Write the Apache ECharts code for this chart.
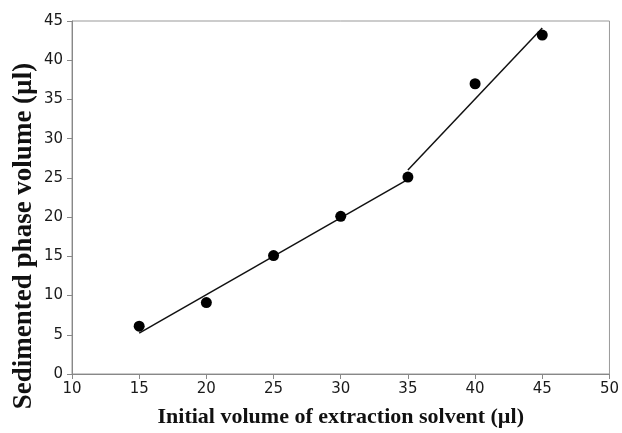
<!DOCTYPE html>
<html>
<head>
<meta charset="utf-8">
<script src="https://cdn.jsdelivr.net/npm/echarts@6/dist/echarts.min.js"></script>
<style>
  html, body { margin: 0; padding: 0; background: #fff; }
  #chart { width: 622px; height: 433px; }
</style>
</head>
<body>
<div id="chart"></div>
<script>
// measured points
const solventVol = [15, 20, 25, 30, 35, 40, 45];
const sedVol = [6.1, 9.1, 15.1, 20.1, 25.1, 37.0, 43.2];
// two fitted segments
const fitLowX = [15, 35];
const fitLowY = [5.2, 24.8];
const fitHighX = [35, 45];
const fitHighY = [26.0, 44.1];

const xTitle = "Initial volume of extraction solvent (µl)";
const yTitle = "Sedimented phase volume (µl)";

const pairs = (xs, ys) => xs.map((x, i) => [x, ys[i]]);

const chart = echarts.init(document.getElementById("chart"));
chart.setOption({
  animation: false,
  grid: {
    left: 72,
    right: 11,
    top: 21,
    bottom: 56,
    show: true,
    borderColor: "#999",
    borderWidth: 1,
  },
  xAxis: {
    type: "value",
    min: 10,
    max: 50,
    interval: 5,
    name: xTitle,
    nameLocation: "middle",
    nameGap: 32,
    nameTextStyle: {
      fontFamily: "Liberation Serif",
      fontWeight: "bold",
      fontSize: 22,
      color: "#111",
    },
    axisLine: { lineStyle: { color: "#888" } },
    axisTick: { show: true, length: 5, lineStyle: { color: "#888" } },
    axisLabel: { fontFamily: "DejaVu Sans", fontSize: 15, color: "#1a1a1a", margin: 8 },
    splitLine: { show: false },
  },
  yAxis: {
    type: "value",
    min: 0,
    max: 45,
    interval: 5,
    axisLine: { show: true, lineStyle: { color: "#888" } },
    axisTick: { show: true, length: 5, lineStyle: { color: "#888" } },
    axisLabel: { fontFamily: "DejaVu Sans", fontSize: 15, color: "#1a1a1a", margin: 9 },
    splitLine: { show: false },
  },
  graphic: [
    {
      type: "text",
      x: 24,
      y: 236,
      rotation: Math.PI / 2,
      style: {
        text: yTitle,
        fontFamily: "Liberation Serif",
        fontWeight: "bold",
        fontSize: 27,
        fill: "#111",
        align: "center",
        verticalAlign: "middle",
      },
    },
  ],
  series: [
    {
      type: "line",
      data: pairs(fitLowX, fitLowY),
      showSymbol: false,
      lineStyle: { color: "#111", width: 1.5 },
      z: 2,
    },
    {
      type: "line",
      data: pairs(fitHighX, fitHighY),
      showSymbol: false,
      lineStyle: { color: "#111", width: 1.5 },
      z: 2,
    },
    {
      type: "scatter",
      data: pairs(solventVol, sedVol),
      symbolSize: 11,
      itemStyle: { color: "#000", opacity: 1 },
      z: 3,
    },
  ],
});
</script>
</body>
</html>
